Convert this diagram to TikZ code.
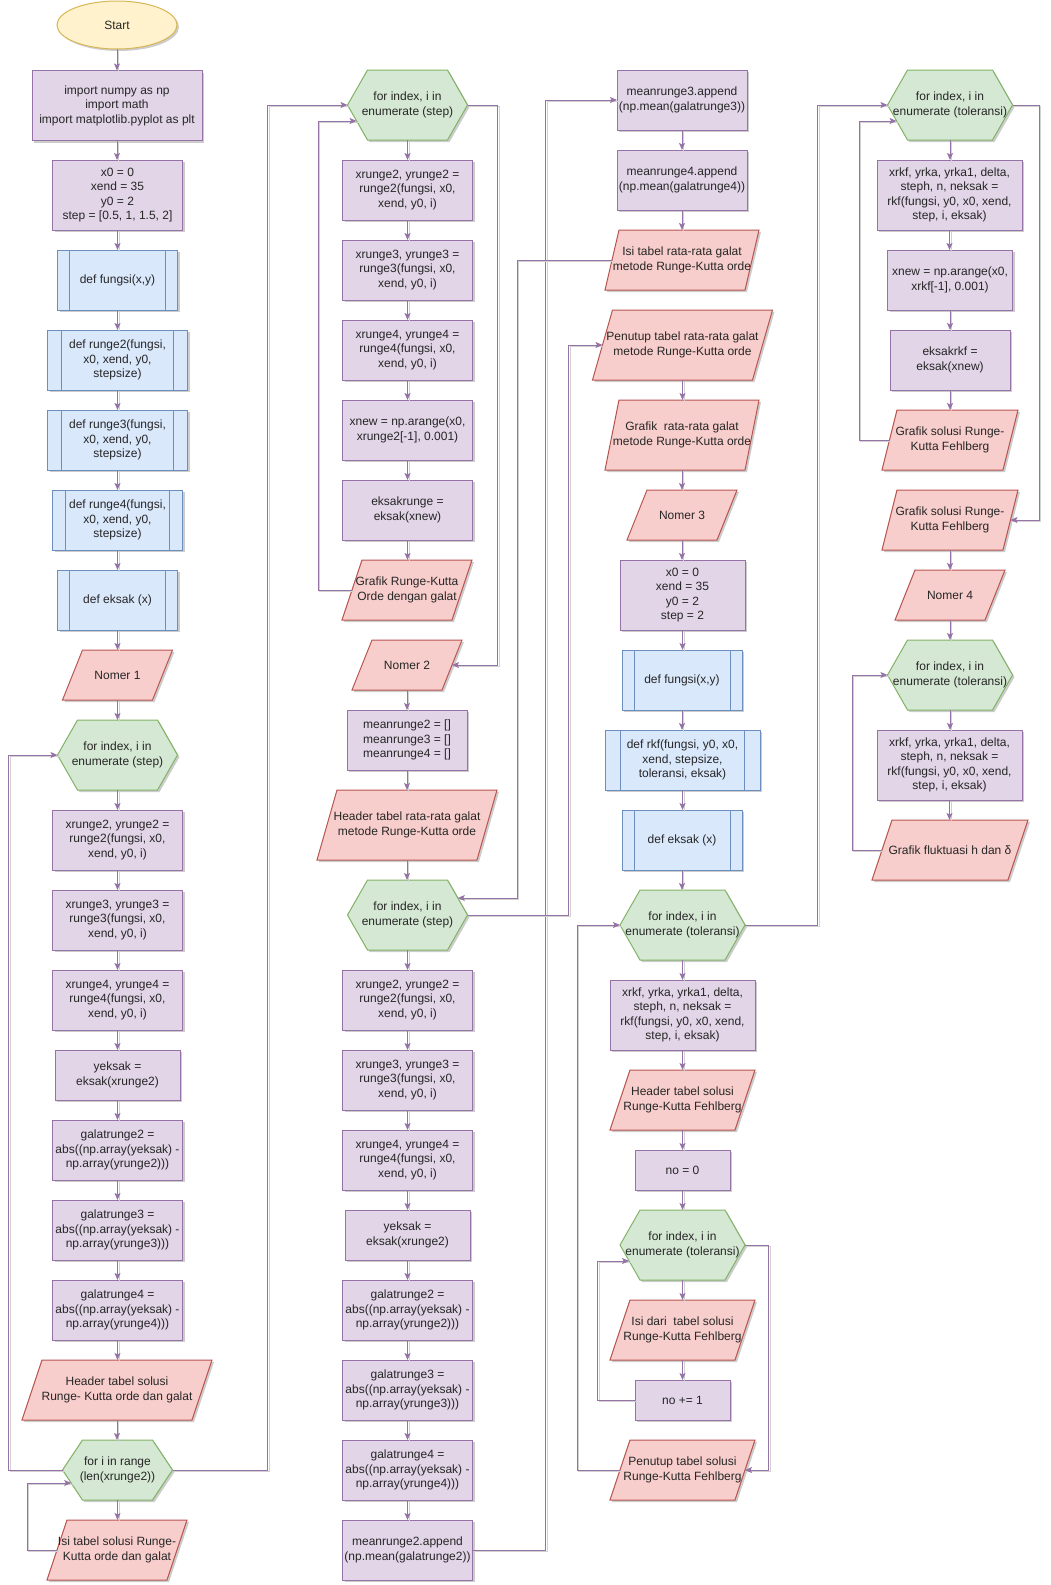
\documentclass[tikz,border=0pt]{standalone}
\usepackage{fontspec}
\setmainfont{Liberation Sans}
\usetikzlibrary{arrows.meta, shapes.geometric, backgrounds, shadows}

\definecolor{procfill}{HTML}{E1D5E7}
\definecolor{procline}{HTML}{9673A6}
\definecolor{subfill}{HTML}{DAE8FC}
\definecolor{subline}{HTML}{6C8EBF}
\definecolor{iofill}{HTML}{F8CECC}
\definecolor{ioline}{HTML}{B85450}
\definecolor{loopfill}{HTML}{D5E8D4}
\definecolor{loopline}{HTML}{82B366}
\definecolor{termfill}{HTML}{FFF2CC}
\definecolor{termline}{HTML}{D6B656}

\begin{document}
\begin{tikzpicture}[x=1pt, y=-1pt,
    every node/.style={font=\fontsize{12}{14.5}\selectfont, align=center, text=black!85,
                       inner xsep=1pt, inner ysep=1pt, outer sep=0pt},
    softshadow/.style={drop shadow={shadow xshift=2pt, shadow yshift=-2pt, fill=black, opacity=0.2}},
    term/.style={ellipse, draw=termline, fill=termfill, line width=1pt,
                 minimum width=120, minimum height=48, softshadow},
    proc/.style 2 args={draw=procline, fill=procfill, line width=1pt,
                 minimum width=#1, minimum height=#2, softshadow},
    sub/.style={draw=subline, fill=subfill, line width=1pt, minimum width=#1, minimum height=60, softshadow,
                path picture={\draw[subline, line width=1pt]
                  ([xshift=0.1*#1]path picture bounding box.north west) -- ([xshift=0.1*#1]path picture bounding box.south west)
                  ([xshift=-0.1*#1]path picture bounding box.north east) -- ([xshift=-0.1*#1]path picture bounding box.south east);}},
    io/.style 2 args={minimum width=#1, minimum height=#2},
    hex/.style 2 args={minimum width=#1, minimum height=#2},
    iobox/.style={draw=ioline, fill=iofill, line width=1pt, softshadow},
    hexbox/.style={draw=loopline, fill=loopfill, line width=1pt, softshadow},
    flow/.style={draw=procline, line width=1pt, -{Stealth[length=7pt, width=6pt, inset=1.5pt]},
                 preaction={draw=black!18, -, line width=1pt, transform canvas={xshift=1.5pt, yshift=-1.5pt}}}]

    \useasboundingbox (0,0) rectangle (1050,1585);

    % ---- Column 1: Nomer 1 ----
    \node[term] (start) at (117,25) {Start};
    \node[proc={170}{70}] (imp) at (117,105.5) {import numpy as np\\import math\\import matplotlib.pyplot as plt};
    \node[proc={130}{70}] (init) at (117.5,195) {x0 = 0\\xend = 35\\y0 = 2\\step = [0.5, 1, 1.5, 2]};
    \node[sub=120] (fungsiA) at (117.5,280) {def fungsi(x,y)};
    \node[sub=140] (rk2def) at (117.5,360) {def runge2(fungsi,\\x0, xend, y0,\\stepsize)};
    \node[sub=140] (rk3def) at (117.5,440) {def runge3(fungsi,\\x0, xend, y0,\\stepsize)};
    \node[sub=130] (rk4def) at (117.5,520) {def runge4(fungsi,\\x0, xend, y0,\\stepsize)};
    \node[sub=120] (eksakA) at (117.5,600) {def eksak (x)};
    \node[io={110}{50}] (nomA) at (117.5,675) {Nomer 1};
    \node[hex={120}{70}] (forA) at (117.5,755) {for index, i in\\enumerate (step)};
    \node[proc={130}{60}] (r2A) at (117.5,840) {xrunge2, yrunge2 =\\runge2(fungsi, x0,\\xend, y0, i)};
    \node[proc={130}{60}] (r3A) at (117.5,920) {xrunge3, yrunge3 =\\runge3(fungsi, x0,\\xend, y0, i)};
    \node[proc={130}{60}] (r4A) at (117.5,1000) {xrunge4, yrunge4 =\\runge4(fungsi, x0,\\xend, y0, i)};
    \node[proc={125}{50}] (yekA) at (117.5,1075) {yeksak =\\eksak(xrunge2)};
    \node[proc={130}{60}] (g2A) at (117.5,1150) {galatrunge2 =\\abs((np.array(yeksak) -\\np.array(yrunge2)))};
    \node[proc={130}{60}] (g3A) at (117.5,1230) {galatrunge3 =\\abs((np.array(yeksak) -\\np.array(yrunge3)))};
    \node[proc={130}{60}] (g4A) at (117.5,1310) {galatrunge4 =\\abs((np.array(yeksak) -\\np.array(yrunge4)))};
    \node[io={190}{60}] (hdrA) at (117,1390) {Header tabel solusi\\Runge- Kutta orde dan galat};
    \node[hex={110}{60}] (rangeA) at (117.5,1470) {for i in range\\(len(xrunge2))};
    \node[io={140}{60}] (isiA) at (117,1550) {Isi tabel solusi Runge-\\Kutta orde dan galat};

    % ---- Column 2: Nomer 2 ----
    \node[hex={120}{70}] (forB) at (407.5,105) {for index, i in\\enumerate (step)};
    \node[proc={130}{60}] (r2B) at (407.5,190) {xrunge2, yrunge2 =\\runge2(fungsi, x0,\\xend, y0, i)};
    \node[proc={130}{60}] (r3B) at (407.5,270) {xrunge3, yrunge3 =\\runge3(fungsi, x0,\\xend, y0, i)};
    \node[proc={130}{60}] (r4B) at (407.5,350) {xrunge4, yrunge4 =\\runge4(fungsi, x0,\\xend, y0, i)};
    \node[proc={130}{60}] (xnewB) at (407.5,430) {xnew = np.arange(x0,\\xrunge2[-1], 0.001)};
    \node[proc={130}{60}] (eksB) at (407.5,510) {eksakrunge =\\eksak(xnew)};
    \node[io={130}{60}] (grafB) at (407,590) {Grafik Runge-Kutta\\Orde dengan galat};
    \node[io={110}{50}] (nomB) at (407,665) {Nomer 2};
    \node[proc={120}{60}] (meanB) at (407,740) {meanrunge2 = []\\meanrunge3 = []\\meanrunge4 = []};
    \node[io={180}{70}] (hdrB) at (407,825) {Header tabel rata-rata galat\\metode Runge-Kutta orde};
    \node[hex={120}{70}] (forB2) at (407.5,915) {for index, i in\\enumerate (step)};
    \node[proc={130}{60}] (r2B2) at (407.5,1000) {xrunge2, yrunge2 =\\runge2(fungsi, x0,\\xend, y0, i)};
    \node[proc={130}{60}] (r3B2) at (407.5,1080) {xrunge3, yrunge3 =\\runge3(fungsi, x0,\\xend, y0, i)};
    \node[proc={130}{60}] (r4B2) at (407.5,1160) {xrunge4, yrunge4 =\\runge4(fungsi, x0,\\xend, y0, i)};
    \node[proc={125}{50}] (yekB) at (407.5,1235) {yeksak =\\eksak(xrunge2)};
    \node[proc={130}{60}] (g2B) at (407.5,1310) {galatrunge2 =\\abs((np.array(yeksak) -\\np.array(yrunge2)))};
    \node[proc={130}{60}] (g3B) at (407.5,1390) {galatrunge3 =\\abs((np.array(yeksak) -\\np.array(yrunge3)))};
    \node[proc={130}{60}] (g4B) at (407.5,1470) {galatrunge4 =\\abs((np.array(yeksak) -\\np.array(yrunge4)))};
    \node[proc={130}{60}] (appB) at (407.5,1550) {meanrunge2.append\\(np.mean(galatrunge2))};

    % ---- Column 3: Nomer 3 ----
    \node[proc={130}{60}] (app3) at (682,100) {meanrunge3.append\\(np.mean(galatrunge3))};
    \node[proc={130}{60}] (app4) at (682,180) {meanrunge4.append\\(np.mean(galatrunge4))};
    \node[io={154}{60}] (isiC) at (682,260) {Isi tabel rata-rata galat\\metode Runge-Kutta orde};
    \node[io={180}{70}] (penC) at (682.5,345) {Penutup tabel rata-rata galat\\metode Runge-Kutta orde};
    \node[io={154}{70}] (grafC) at (682,435) {Grafik\ \ rata-rata galat\\metode Runge-Kutta orde};
    \node[io={110}{50}] (nomC) at (682,515) {Nomer 3};
    \node[proc={125}{70}] (initC) at (682.5,595) {x0 = 0\\xend = 35\\y0 = 2\\step = 2};
    \node[sub=120] (fungsiC) at (682,680) {def fungsi(x,y)};
    \node[sub=155] (rkfC) at (682.5,760) {def rkf(fungsi, y0, x0,\\xend, stepsize,\\toleransi, eksak)};
    \node[sub=120] (eksakC) at (682,840) {def eksak (x)};
    \node[hex={125}{70}] (forC) at (682.5,925) {for index, i in\\enumerate (toleransi)};
    \node[proc={145}{70}] (rkfcallC) at (682.5,1015) {xrkf, yrka, yrka1, delta,\\steph, n, neksak =\\rkf(fungsi, y0, x0, xend,\\step, i, eksak)};
    \node[io={145}{60}] (hdrC) at (682.5,1100) {Header tabel solusi\\Runge-Kutta Fehlberg};
    \node[proc={95}{40}] (noC) at (682.5,1170) {no = 0};
    \node[hex={125}{70}] (forC2) at (682.5,1245) {for index, i in\\enumerate (toleransi)};
    \node[io={145}{60}] (isiC2) at (682.5,1330) {Isi dari\ \ tabel solusi\\Runge-Kutta Fehlberg};
    \node[proc={95}{40}] (incC) at (682.5,1400) {no += 1};
    \node[io={145}{60}] (penC2) at (682.5,1470) {Penutup tabel solusi\\Runge-Kutta Fehlberg};

    % ---- Column 4: Nomer 4 ----
    \node[hex={125}{70}] (forD) at (950,105) {for index, i in\\enumerate (toleransi)};
    \node[proc={145}{70}] (rkfD) at (949.5,195) {xrkf, yrka, yrka1, delta,\\steph, n, neksak =\\rkf(fungsi, y0, x0, xend,\\step, i, eksak)};
    \node[proc={125}{60}] (xnewD) at (950,280) {xnew = np.arange(x0,\\xrkf[-1], 0.001)};
    \node[proc={120}{60}] (eksD) at (950,360) {eksakrkf =\\eksak(xnew)};
    \node[io={136}{60}] (grafD) at (950,440) {Grafik solusi Runge-\\Kutta Fehlberg};
    \node[io={136}{60}] (grafD2) at (950,520) {Grafik solusi Runge-\\Kutta Fehlberg};
    \node[io={110}{50}] (nomD) at (950,595) {Nomer 4};
    \node[hex={125}{70}] (forD2) at (950,675) {for index, i in\\enumerate (toleransi)};
    \node[proc={145}{70}] (rkfD2) at (949.5,765) {xrkf, yrka, yrka1, delta,\\steph, n, neksak =\\rkf(fungsi, y0, x0, xend,\\step, i, eksak)};
    \node[io={156}{60}] (flukD) at (950,850) {Grafik fluktuasi h dan δ};

    % ---- Shapes behind the io and loop nodes ----
    \begin{scope}[on background layer]
    \foreach \n/\s in {nomA/20, hdrA/20, isiA/20, grafB/20, nomB/20, hdrB/20, isiC/14, penC/20, grafC/14,
                      nomC/20, hdrC/20, isiC2/20, penC2/20, grafD/15, grafD2/15, nomD/20, flukD/20}
      \draw[iobox] ([xshift=\s]\n.north west) -- (\n.north east) -- ([xshift=-\s]\n.south east)
                   -- (\n.south west) -- cycle;
    \foreach \n in {forA, rangeA, forB, forB2, forC, forC2, forD, forD2}
      \draw[hexbox] ([xshift=20]\n.north west) -- ([xshift=-20]\n.north east) -- (\n.east)
                    -- ([xshift=-20]\n.south east) -- ([xshift=20]\n.south west) -- (\n.west) -- cycle;
    \end{scope}

    % ---- Straight flow ----
    \foreach \a/\b in {start/imp, imp/init, init/fungsiA, fungsiA/rk2def, rk2def/rk3def, rk3def/rk4def,
                      rk4def/eksakA, eksakA/nomA, nomA/forA, forA/r2A, r2A/r3A, r3A/r4A, r4A/yekA,
                      yekA/g2A, g2A/g3A, g3A/g4A, g4A/hdrA, hdrA/rangeA, rangeA/isiA,
                      forB/r2B, r2B/r3B, r3B/r4B, r4B/xnewB, xnewB/eksB, eksB/grafB,
                      nomB/meanB, meanB/hdrB, hdrB/forB2, forB2/r2B2, r2B2/r3B2, r3B2/r4B2, r4B2/yekB,
                      yekB/g2B, g2B/g3B, g3B/g4B, g4B/appB,
                      app3/app4, app4/isiC, penC/grafC, grafC/nomC, nomC/initC, initC/fungsiC,
                      fungsiC/rkfC, rkfC/eksakC, eksakC/forC, forC/rkfcallC, rkfcallC/hdrC, hdrC/noC,
                      noC/forC2, forC2/isiC2, isiC2/incC,
                      forD/rkfD, rkfD/xnewD, xnewD/eksD, eksD/grafD,
                      grafD2/nomD, nomD/forD2, forD2/rkfD2, rkfD2/flukD}
      \draw[flow] (\a.south) -- (\a.south |- \b.north);

    % ---- Loops and jumps between columns ----
    \draw[flow] (rangeA.west) -- ++(-54,0) |- (forA.west);
    \draw[flow] (rangeA.east) -- ++(95,0) |- (forB.west);
    \draw[flow] ([xshift=10]isiA.west) -- ++(-30,0) |- ([xshift=8.7, yshift=-13]rangeA.west);
    \draw[flow] ([xshift=10]grafB.west) -- ++(-34,0) |- ([xshift=9.1, yshift=-16]forB.west);
    \draw[flow] (forB.east) -- ++(30,0) |- ([xshift=-10]nomB.east);
    \draw[flow] (appB.east) -- ++(73,0) |- (app3.west);
    \draw[flow] ([xshift=7]isiC.west) -- ++(-95,0) |- ([xshift=-9.7, yshift=17]forB2.east);
    \draw[flow] (forB2.east) -- ++(101,0) |- ([xshift=10]penC.west);
    \draw[flow] (incC.west) -- ++(-37.5,0) |- ([xshift=9.1, yshift=-16]forC2.west);
    \draw[flow] (forC2.east) -- ++(23.5,0) |- ([xshift=-10]penC2.east);
    \draw[flow] ([xshift=10]penC2.west) -- ++(-43,0) |- (forC.west);
    \draw[flow] (forC.east) -- ++(72.5,0) |- (forD.west);
    \draw[flow] ([xshift=7.5]grafD.west) -- ++(-30.5,0) |- ([xshift=9.1, yshift=-16]forD.west);
    \draw[flow] (forD.east) -- ++(26.5,0) |- ([xshift=-7.5]grafD2.east);
    \draw[flow] ([xshift=10]flukD.west) -- ++(-30,0) |- (forD2.west);

\end{tikzpicture}
\end{document}
